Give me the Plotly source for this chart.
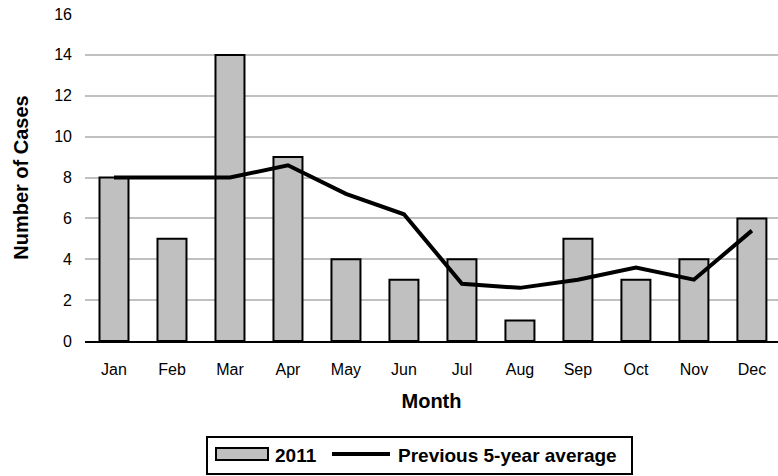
import plotly.graph_objects as go

months = ["Jan", "Feb", "Mar", "Apr", "May", "Jun", "Jul", "Aug", "Sep", "Oct", "Nov", "Dec"]
cases_2011 = [8, 5, 14, 9, 4, 3, 4, 1, 5, 3, 4, 6]
prev_5yr_avg = [8, 8, 8, 8.6, 7.2, 6.2, 2.8, 2.6, 3.0, 3.6, 3.0, 5.4]
y_ticks = [0, 2, 4, 6, 8, 10, 12, 14, 16]
legend_labels = ["2011", "Previous 5-year average"]

font_family = "Liberation Sans, Arial, sans-serif"
BAR_FILL = "#C0C0C0"

W, H = 778, 476
ML, MR, MT, MB = 85, 0, 14, 135
PW, PH = W - ML - MR, H - MT - MB


def px(x):
    return (x - ML) / PW


def py(y):
    return (H - MB - y) / PH


fig = go.Figure()
fig.add_trace(go.Bar(
    x=months, y=cases_2011, name=legend_labels[0],
    marker=dict(color=BAR_FILL, line=dict(color="black", width=2)),
    width=0.5,
))
fig.add_trace(go.Scatter(
    x=months, y=prev_5yr_avg, name=legend_labels[1],
    mode="lines", line=dict(color="black", width=4),
))

# legend drawn as a boxed strip below the chart (wide bar swatch like the original)
shapes = [
    dict(type="rect", xref="paper", yref="paper",
         x0=px(207), x1=px(632), y0=py(437), y1=py(474),
         line=dict(color="black", width=2), fillcolor="white"),
    dict(type="rect", xref="paper", yref="paper",
         x0=px(216), x1=px(268), y0=py(448), y1=py(460),
         line=dict(color="black", width=2), fillcolor=BAR_FILL),
    dict(type="line", xref="paper", yref="paper",
         x0=px(332), x1=px(390), y0=py(454), y1=py(454),
         line=dict(color="black", width=4)),
]
annotations = [
    dict(text=legend_labels[0], xref="paper", yref="paper", x=px(273), y=py(455),
         xanchor="left", yanchor="middle", showarrow=False,
         font=dict(size=19, family=font_family, weight="bold", color="black")),
    dict(text=legend_labels[1], xref="paper", yref="paper", x=px(396), y=py(455),
         xanchor="left", yanchor="middle", showarrow=False,
         font=dict(size=19, family=font_family, weight="bold", color="black")),
]

fig.update_layout(
    width=W, height=H,
    margin=dict(l=ML, r=MR, t=MT, b=MB),
    paper_bgcolor="white", plot_bgcolor="white",
    font=dict(family=font_family, color="black", size=16),
    showlegend=False,
    shapes=shapes,
    annotations=annotations,
)
fig.update_xaxes(
    showline=True, linecolor="black", linewidth=2,
    showgrid=False, ticks="", ticklabelstandoff=13,
    tickfont=dict(size=16), automargin=False,
    title=dict(text="Month", font=dict(size=20, weight="bold"), standoff=17),
    range=[-0.5, 11.45],
)
fig.update_yaxes(
    range=[0, 16], tickvals=y_ticks,
    showgrid=True, gridcolor="#C0C0C0", gridwidth=2,
    zeroline=False, showline=False, ticks="", automargin=False,
    ticklabelstandoff=12, tickfont=dict(size=16),
    title=dict(text="Number of Cases", font=dict(size=20, weight="bold"), standoff=20),
)

fig.write_html(
    "out.html",
    config={"displayModeBar": False},
    post_script="document.body.style.margin='0';document.body.style.overflow='hidden';",
)
